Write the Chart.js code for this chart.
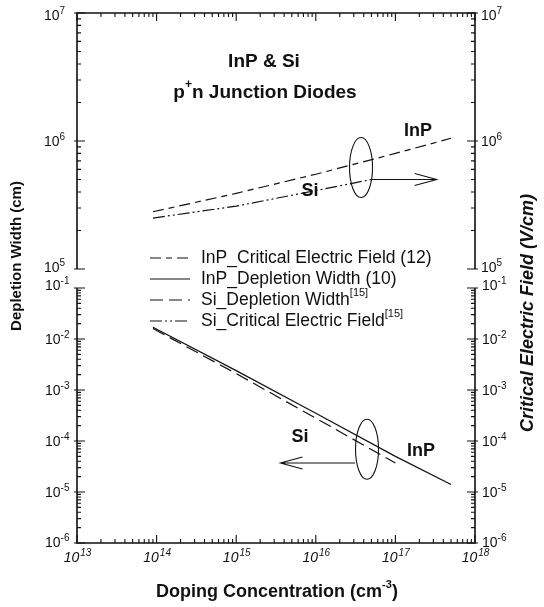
<!DOCTYPE html>
<html><head><meta charset="utf-8">
<script src="https://cdn.jsdelivr.net/npm/chart.js@4/dist/chart.umd.min.js"></script>
<style>html,body{margin:0;padding:0;background:#fff}#wrap{width:544px;height:607px;position:relative}</style>
</head><body><div id="wrap"><canvas id="c" width="544" height="607"></canvas></div>
<script>
// ---- data ----
const dopingInPField = [9e13, 1e15, 1e16, 1e17, 5e17];
const fieldInP       = [2.8e5, 3.9e5, 5.5e5, 8.0e5, 1.05e6];
const dopingInPWidth = [9e13, 1e15, 1e16, 1e17, 5e17];
const widthInP       = [1.7e-2, 2.4e-3, 3.5e-4, 5.0e-5, 1.4e-5];
const dopingSiWidth  = [9e13, 1e15, 1e16, 1e17];
const widthSi        = [1.6e-2, 2.1e-3, 2.8e-4, 3.7e-5];
const dopingSiField  = [9e13, 1e15, 1e16, 5e16];
const fieldSi        = [2.5e5, 3.1e5, 4.1e5, 5.0e5];
const seriesLabels = ['InP_Critical Electric Field (12)', 'InP_Depletion Width (10)', 'Si_Depletion Width[15]', 'Si_Critical Electric Field[15]'];
const xTickExponents = [13, 14, 15, 16, 17, 18];
const fieldTickExponents = [5, 6, 7];
const widthTickExponents = [-6, -5, -4, -3, -2, -1];

const pts = (xs, ys) => xs.map((x, i) => ({x, y: ys[i]}));
const FONT = '"Liberation Sans", Arial, sans-serif';
const INK = '#111';

function drawPow(ctx, exp, x, y, align, italic) {
  const f1 = (italic ? 'italic ' : '') + '14px ' + FONT;
  const f2 = (italic ? 'italic ' : '') + '10px ' + FONT;
  const e = String(exp);
  ctx.font = f1; const w1 = ctx.measureText('10').width;
  ctx.font = f2; const w2 = ctx.measureText(e).width;
  let sx = align === 'center' ? x - (w1 + w2) / 2 : (align === 'right' ? x - w1 - w2 : x);
  ctx.textAlign = 'left'; ctx.textBaseline = 'alphabetic';
  ctx.font = f1; ctx.fillText('10', sx, y + 5);
  ctx.font = f2; ctx.fillText(e, sx + w1 + (italic ? 1 : 0), y - 1);
}

function drawSupText(ctx, text, x, y, size, bold, align) {
  const m = text.match(/^(.*?)(\[\d+\])?$/);
  const main = m[1], sup = m[2] || '';
  const f1 = (bold ? 'bold ' : '') + size + 'px ' + FONT;
  const f2 = (bold ? 'bold ' : '') + Math.round(size * 0.62) + 'px ' + FONT;
  ctx.font = f1; const w1 = ctx.measureText(main).width;
  ctx.font = f2; const w2 = ctx.measureText(sup).width;
  let sx = align === 'center' ? x - (w1 + w2) / 2 : x;
  ctx.textAlign = 'left'; ctx.textBaseline = 'middle';
  ctx.font = f1; ctx.fillText(main, sx, y);
  ctx.font = f2; ctx.fillText(sup, sx + w1, y - size * 0.4);
}

const decor = {
  id: 'decor',
  afterDraw(chart) {
    const ctx = chart.ctx;
    const xs = chart.scales.x, yt = chart.scales.yTop, yb = chart.scales.yBot;
    const L = xs.getPixelForValue(1e13), R = xs.getPixelForValue(1e18);
    const yT0 = yt.getPixelForValue(1e7), yT1 = yt.getPixelForValue(1e5);
    const yB0 = yb.getPixelForValue(1e-1), yB1 = yb.getPixelForValue(1e-6);
    ctx.save();
    ctx.strokeStyle = INK; ctx.fillStyle = INK; ctx.lineCap = 'butt';
    ctx.lineWidth = 1.6;
    ctx.beginPath();
    ctx.moveTo(L, yT1); ctx.lineTo(L, yT0); ctx.lineTo(R, yT0); ctx.lineTo(R, yT1);
    ctx.moveTo(L, yB0); ctx.lineTo(L, yB1); ctx.lineTo(R, yB1); ctx.lineTo(R, yB0);
    ctx.stroke();
    ctx.lineWidth = 1.1;
    const yTicks = (scale, exps) => {
      ctx.beginPath();
      for (let k = 0; k < exps.length; k++) {
        const p = scale.getPixelForValue(Math.pow(10, exps[k]));
        ctx.moveTo(L - 3, p); ctx.lineTo(L + 8, p);
        ctx.moveTo(R + 3, p); ctx.lineTo(R - 8, p);
        if (k < exps.length - 1) {
          for (let m = 2; m <= 9; m++) {
            const q = scale.getPixelForValue(m * Math.pow(10, exps[k]));
            ctx.moveTo(L, q); ctx.lineTo(L + 4, q);
            ctx.moveTo(R, q); ctx.lineTo(R - 4, q);
          }
        }
      }
      ctx.stroke();
    };
    yTicks(yt, fieldTickExponents);
    yTicks(yb, widthTickExponents);
    ctx.beginPath();
    for (let k = 0; k < xTickExponents.length; k++) {
      const p = xs.getPixelForValue(Math.pow(10, xTickExponents[k]));
      ctx.moveTo(p, yB1); ctx.lineTo(p, yB1 - 8);
      ctx.moveTo(p, yT0); ctx.lineTo(p, yT0 + 8);
      if (k < xTickExponents.length - 1) {
        for (let m = 2; m <= 9; m++) {
          const q = xs.getPixelForValue(m * Math.pow(10, xTickExponents[k]));
          ctx.moveTo(q, yB1); ctx.lineTo(q, yB1 - 4);
          ctx.moveTo(q, yT0); ctx.lineTo(q, yT0 + 4);
        }
      }
    }
    ctx.stroke();
    fieldTickExponents.forEach(e => {
      let p = yt.getPixelForValue(Math.pow(10, e));
      if (e === 7) p += 2;
      if (e === 5) p -= 2;
      drawPow(ctx, e, 44, p, 'left', false);
      drawPow(ctx, e, R + 6, p, 'left', false);
    });
    widthTickExponents.forEach(e => {
      let p = yb.getPixelForValue(Math.pow(10, e));
      if (e === -1) p -= 3;
      if (e === -6) p -= 1;
      drawPow(ctx, e, 45, p, 'left', false);
      drawPow(ctx, e, R + 7, p, 'left', false);
    });
    xTickExponents.forEach(e => {
      const p = xs.getPixelForValue(Math.pow(10, e));
      drawPow(ctx, e, p, yB1 + 14, 'center', true);
    });
    const ds = chart.data.datasets;
    ctx.lineWidth = 1.2;
    ds.forEach((d, i) => {
      const y = 258 + i * 21;
      ctx.save();
      ctx.setLineDash(d.borderDash || []);
      ctx.beginPath(); ctx.moveTo(150, y); ctx.lineTo(190, y); ctx.stroke();
      ctx.restore();
      drawSupText(ctx, d.label, 201, y, 17.5, false, 'left');
    });
    ctx.textAlign = 'center'; ctx.textBaseline = 'middle';
    ctx.font = 'bold 19px ' + FONT;
    ctx.fillText('InP & Si', 264, 62);
    {
      const a = 'p', b = '+', c = 'n Junction Diodes';
      ctx.font = 'bold 19px ' + FONT; const wa = ctx.measureText(a).width, wc = ctx.measureText(c).width;
      ctx.font = 'bold 12px ' + FONT; const wb = ctx.measureText(b).width;
      let sx = 265 - (wa + wb + wc) / 2;
      ctx.textAlign = 'left';
      ctx.font = 'bold 19px ' + FONT; ctx.fillText(a, sx, 93);
      ctx.font = 'bold 12px ' + FONT; ctx.fillText(b, sx + wa, 85);
      ctx.font = 'bold 19px ' + FONT; ctx.fillText(c, sx + wa + wb, 93);
    }
    ctx.textAlign = 'center';
    ctx.font = 'bold 18px ' + FONT;
    ctx.fillText('InP', 418, 131);
    ctx.fillText('Si', 310, 191);
    ctx.fillText('Si', 300, 437);
    ctx.fillText('InP', 421, 451);
    ctx.lineWidth = 1.1;
    const ell = (cx, cy) => { ctx.beginPath(); ctx.ellipse(cx, cy, 11.5, 30, 0, 0, Math.PI * 2); ctx.stroke(); };
    const e1x = xs.getPixelForValue(3.7e16), e1y = yt.getPixelForValue(6.2e5);
    ell(e1x, e1y);
    const a1y = yt.getPixelForValue(5.0e5), a1x0 = e1x + 11, a1x1 = xs.getPixelForValue(3.3e17);
    ctx.beginPath(); ctx.moveTo(a1x0, a1y); ctx.lineTo(a1x1, a1y);
    ctx.moveTo(a1x1 - 22, a1y - 6); ctx.lineTo(a1x1, a1y); ctx.lineTo(a1x1 - 22, a1y + 6); ctx.stroke();
    const e2x = xs.getPixelForValue(4.4e16), e2y = yb.getPixelForValue(6.9e-5);
    ell(e2x, e2y);
    const a2y = yb.getPixelForValue(3.7e-5), a2x0 = e2x - 12, a2x1 = xs.getPixelForValue(3.6e15);
    ctx.beginPath(); ctx.moveTo(a2x0, a2y); ctx.lineTo(a2x1, a2y);
    ctx.moveTo(a2x1 + 22, a2y - 6); ctx.lineTo(a2x1, a2y); ctx.lineTo(a2x1 + 22, a2y + 6); ctx.stroke();
    ctx.textAlign = 'center'; ctx.textBaseline = 'middle';
    ctx.save(); ctx.translate(17, 256); ctx.rotate(-Math.PI / 2);
    ctx.font = 'bold 15px ' + FONT; ctx.fillText('Depletion Width (cm)', 0, 0); ctx.restore();
    ctx.save(); ctx.translate(528, 313); ctx.rotate(-Math.PI / 2);
    ctx.font = 'italic bold 18px ' + FONT; ctx.fillText('Critical Electric Field (V/cm)', 0, 0); ctx.restore();
    {
      const a = 'Doping Concentration (cm', b = '-3', c = ')';
      ctx.font = 'bold 18px ' + FONT; const wa = ctx.measureText(a).width, wc = ctx.measureText(c).width;
      ctx.font = 'bold 11px ' + FONT; const wb = ctx.measureText(b).width;
      let sx = 277 - (wa + wb + wc) / 2;
      ctx.textAlign = 'left';
      ctx.font = 'bold 18px ' + FONT; ctx.fillText(a, sx, 592);
      ctx.font = 'bold 11px ' + FONT; ctx.fillText(b, sx + wa, 585);
      ctx.font = 'bold 18px ' + FONT; ctx.fillText(c, sx + wa + wb, 592);
    }
    ctx.restore();
  }
};

new Chart(document.getElementById('c'), {
  type: 'line',
  data: {
    datasets: [
      { label: seriesLabels[0], data: pts(dopingInPField, fieldInP), yAxisID: 'yTop', borderDash: [11, 5, 6, 5] },
      { label: seriesLabels[1], data: pts(dopingInPWidth, widthInP), yAxisID: 'yBot', borderDash: [] },
      { label: seriesLabels[2], data: pts(dopingSiWidth, widthSi), yAxisID: 'yBot', borderDash: [13, 6] },
      { label: seriesLabels[3], data: pts(dopingSiField, fieldSi), yAxisID: 'yTop', borderDash: [12, 3, 2, 3, 2, 3] }
    ].map(d => Object.assign({ borderColor: INK, borderWidth: 1.2, pointRadius: 0, tension: 0, fill: false, clip: false }, d))
  },
  options: {
    responsive: false, animation: false, devicePixelRatio: 1,
    layout: { padding: { left: 77, right: 69, top: 13, bottom: 64 } },
    plugins: { legend: { display: false }, tooltip: { enabled: false } },
    scales: {
      x: { type: 'logarithmic', min: 1e13, max: 1e18, display: false },
      yTop: { type: 'logarithmic', position: 'left', min: 1e5, max: 1e7, stack: 'v', stackWeight: 256, weight: 3, display: false },
      yGap: { type: 'linear', position: 'left', min: 0, max: 1, stack: 'v', stackWeight: 19, weight: 2, display: false },
      yBot: { type: 'logarithmic', position: 'left', min: 1e-6, max: 1e-1, stack: 'v', stackWeight: 255, weight: 1, display: false }
    }
  },
  plugins: [decor]
});
</script>
</body></html>
